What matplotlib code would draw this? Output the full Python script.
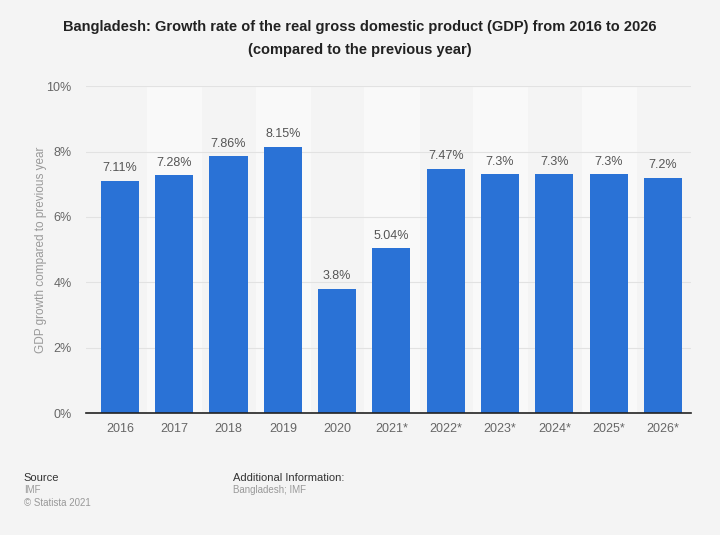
import matplotlib.pyplot as plt
from matplotlib.ticker import FuncFormatter

years = ['2016', '2017', '2018', '2019', '2020', '2021*', '2022*', '2023*', '2024*', '2025*', '2026*']
growth = [7.11, 7.28, 7.86, 8.15, 3.8, 5.04, 7.47, 7.3, 7.3, 7.3, 7.2]
labels = ['7.11%', '7.28%', '7.86%', '8.15%', '3.8%', '5.04%', '7.47%', '7.3%', '7.3%', '7.3%', '7.2%']

plt.rcParams['font.family'] = ['Liberation Sans', 'DejaVu Sans']

fig = plt.figure(figsize=(7.2, 5.35), dpi=100, facecolor='#f4f4f4')
ax = fig.add_axes([0.119, 0.228, 0.841, 0.611])
ax.set_facecolor('#f4f4f4')

x = list(range(len(years)))
# lighter background bands on every other column
for i in x:
    if i % 2 == 1:
        ax.axvspan(i - 0.5, i + 0.5, color='#f9f9f9', zorder=0)

ax.bar(x, growth, width=0.7, color='#2a72d6', zorder=3)
for i, v in enumerate(growth):
    ax.text(i, v + 0.2, labels[i], ha='center', va='bottom', fontsize=9, color='#555555', zorder=4)

ax.set_xlim(-0.63, 10.52)
ax.set_ylim(0, 10)
ax.set_yticks([0, 2, 4, 6, 8, 10])
ax.yaxis.set_major_formatter(FuncFormatter(lambda v, p: f'{v:.0f}%'))
ax.set_xticks(x)
ax.set_xticklabels(years)
ax.tick_params(axis='both', length=0, labelsize=9, labelcolor='#666666')
ax.tick_params(axis='y', pad=10)
ax.tick_params(axis='x', pad=7)
ax.grid(axis='y', color='#e2e2e2', linewidth=0.8, zorder=1)
for s in ['top', 'right', 'left']:
    ax.spines[s].set_visible(False)
ax.spines['bottom'].set_color('#222222')
ax.spines['bottom'].set_linewidth(1.2)
ax.spines['bottom'].set_zorder(5)
ax.set_ylabel('GDP growth compared to previous year', fontsize=8.5, color='#999999', labelpad=0)

fig.text(0.5, 0.95, 'Bangladesh: Growth rate of the real gross domestic product (GDP) from 2016 to 2026',
         ha='center', va='center', fontsize=10.5, fontweight='bold', color='#222222')
fig.text(0.5, 0.906, '(compared to the previous year)',
         ha='center', va='center', fontsize=10.5, fontweight='bold', color='#222222')

fig.text(0.033, 0.107, 'Source', fontsize=8, color='#333333', va='center')
fig.text(0.033, 0.084, 'IMF', fontsize=7, color='#999999', va='center')
fig.text(0.033, 0.060, '\u00a9 Statista 2021', fontsize=7, color='#999999', va='center')
fig.text(0.324, 0.107, 'Additional Information:', fontsize=8, color='#333333', va='center')
fig.text(0.324, 0.084, 'Bangladesh; IMF', fontsize=7, color='#999999', va='center')

fig.savefig('out.png', dpi=100, facecolor=fig.get_facecolor())
